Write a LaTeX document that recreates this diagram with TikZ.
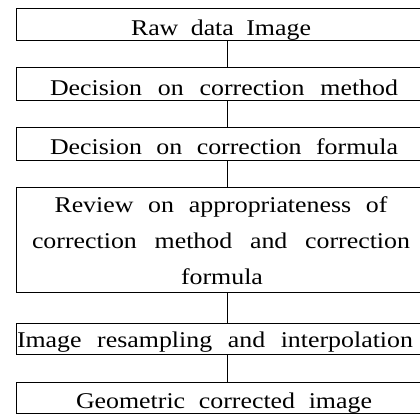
\documentclass[tikz,border=0pt]{standalone}
\usepackage{fontspec}
\setmainfont{Liberation Serif}[FakeStretch=1.15]
\begin{document}
\begin{tikzpicture}[x=1pt,y=-1pt,
  stagebox/.style={draw=black, line width=0.8pt, inner sep=0pt, minimum width=422pt},
  label/.style={anchor=base, inner sep=0pt, font=\fontsize{22.5}{27}\selectfont},
  link/.style={draw=black, line width=0.8pt}]
\useasboundingbox[fill=white] (0,0) rectangle (420,415);
\node[stagebox, minimum height=32pt] (b1) at (227,24) {};
\node[stagebox, minimum height=33pt] (b2) at (227,83.5) {};
\node[stagebox, minimum height=33pt] (b3) at (227,143.5) {};
\node[stagebox, minimum height=105pt] (b4) at (227,239.5) {};
\node[stagebox, minimum height=31pt] (b5) at (227,338.5) {};
\node[stagebox, minimum height=31pt] (b6) at (227,397.5) {};
\node[label] (t1) at (221,35) {\makebox[180pt][s]{Raw data Image}};
\node[label] (t2) at (224,95) {\makebox[348pt][s]{Decision on correction method}};
\node[label] (t3) at (224,154.5) {\makebox[348pt][s]{Decision on correction formula}};
\node[label] (t4a) at (221,212) {\makebox[333pt][s]{Review on appropriateness of}};
\node[label] (t4b) at (221,248) {\makebox[378pt][s]{correction method and correction}};
\node[label] (t4c) at (222,284) {formula};
\node[label] (t5) at (215,347) {\makebox[396pt][s]{Image resampling and interpolation}};
\node[label] (t6) at (224,408) {\makebox[296pt][s]{Geometric corrected image}};
\draw[link] (b1.south) -- (b2.north);
\draw[link] (b2.south) -- (b3.north);
\draw[link] (b3.south) -- (b4.north);
\draw[link] (b4.south) -- (b5.north);
\draw[link] (b5.south) -- (b6.north);
\end{tikzpicture}
\end{document}
